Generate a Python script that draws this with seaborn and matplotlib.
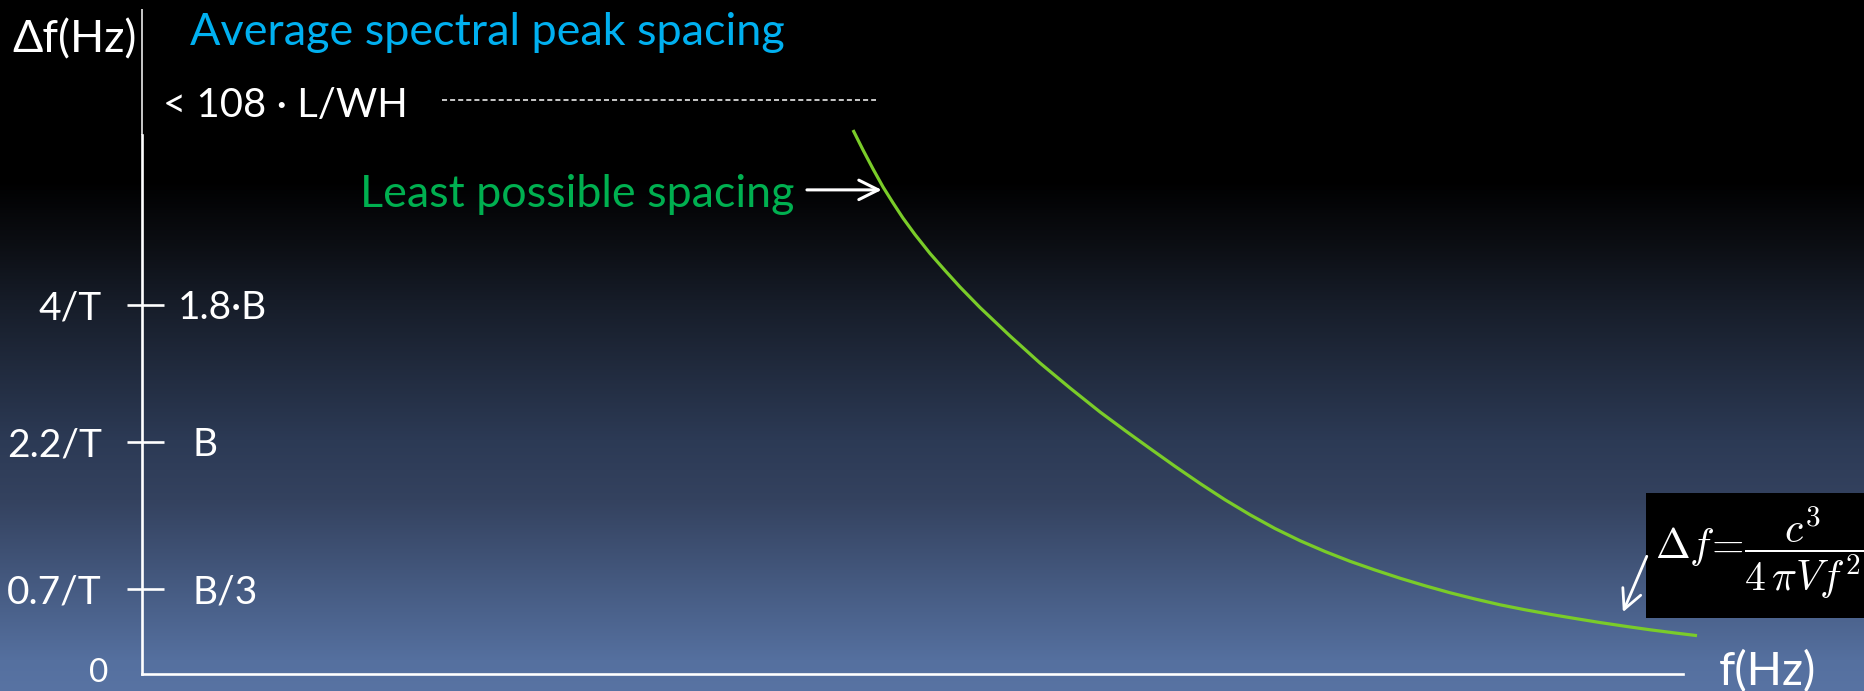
import numpy as np
import pandas as pd
import matplotlib
matplotlib.use("Agg")
import matplotlib.pyplot as plt
from matplotlib.patches import Rectangle
import seaborn as sns

# ---------------- data (schematic units: axis runs 0..100 on both axes) ----------------
freq = [46.14, 46.79, 47.44, 48.09, 48.74, 49.38, 50.16, 51.14, 52.11, 53.08,
        54.38, 56.33, 58.27, 60.22, 62.17, 63.79, 65.41, 67.03, 68.66, 70.28,
        71.90, 73.52, 75.15, 76.77, 78.39, 80.01, 81.64, 83.26, 84.88, 86.50,
        88.12, 89.75, 91.37, 92.99, 94.61, 96.24, 97.86, 99.48, 100.91]
spacing = [81.80, 78.80, 75.94, 73.23, 70.83, 68.57, 66.09, 63.23, 60.68, 58.20,
           55.11, 50.83, 46.77, 43.01, 39.40, 36.62, 33.91, 31.24, 28.65, 26.20,
           23.95, 21.88, 20.04, 18.42, 16.95, 15.64, 14.40, 13.27, 12.22, 11.28,
           10.41, 9.66, 8.98, 8.35, 7.74, 7.18, 6.65, 6.17, 5.77]
ytick_pos = [12.8, 34.9, 55.5]
ytick_left = ["0.7/T", "2.2/T", "4/T"]
ytick_right = ["B/3", "B", "1.8·B"]
origin_label = "0"
limit_level = 86.3
limit_span = [19.5, 47.6]
y_label = "Δf(Hz)"
x_label = "f(Hz)"
title = "Average spectral peak spacing"
limit_text = "< 108 · L/WH"
curve_text = "Least possible spacing"
formula = r"$\Delta f\!=\!\dfrac{c^3}{4\,\pi V f^2}$"

# ---------------- style ----------------
sns.set_theme(style="white")
plt.rcParams["font.family"] = ["Lato", "DejaVu Sans"]
plt.rcParams["mathtext.fontset"] = "cm"

W, H = 1864, 691
fig = plt.figure(figsize=(W / 100, H / 100), dpi=100)

# background gradient
bg = fig.add_axes([0, 0, 1, 1], zorder=0)
rows = np.arange(H)
stops_y = [0, 180, 240, 300, 440, 500, 660, 691]
stops_c = np.array([[0x00, 0x00, 0x00], [0x00, 0x00, 0x00], [0x0b, 0x0d, 0x12],
                    [0x16, 0x1c, 0x28], [0x2c, 0x3a, 0x55], [0x34, 0x42, 0x5f],
                    [0x55, 0x70, 0x9f], [0x58, 0x73, 0xa3]]) / 255.0
grad = np.stack([np.interp(rows, stops_y, stops_c[:, k]) for k in range(3)], axis=-1)
bg.imshow(grad[:, None, :], aspect="auto", extent=[0, 1, 0, 1], origin="upper")
bg.set_axis_off()

ax = fig.add_axes([142 / W, 17 / H, (1683 - 142) / W, 665 / H], zorder=1)
ax.patch.set_alpha(0)
ax.set_xlim(0, 100)
ax.set_ylim(0, 100)

df = pd.DataFrame({"f": freq, "df": spacing})
sns.lineplot(data=df, x="f", y="df", ax=ax, color="#7ACC29", lw=2.3,
             sort=False, clip_on=False, solid_joinstyle="round", solid_capstyle="butt")
ax.set_xlabel("")
ax.set_ylabel("")

for s in ["top", "right"]:
    ax.spines[s].set_visible(False)
for s in ["left", "bottom"]:
    ax.spines[s].set_color("white")
    ax.spines[s].set_linewidth(1.9)
ax.spines["left"].set_bounds(0, 81)
ax.spines["bottom"].set_bounds(0, 100)
ax.plot([0, 0], [81, 100], color="white", lw=1.1, clip_on=False, solid_capstyle="butt")

ax.set_xticks([])
ax.set_yticks(ytick_pos, ytick_left)
ax.tick_params(axis="y", length=0, pad=29, labelsize=28, labelcolor="white")

# origin label
ax.text(-2.2, -1.2, origin_label, color="white", fontsize=24, ha="right",
        va="baseline", clip_on=False)

# tick marks crossing the axis
ax.hlines(ytick_pos, -1.0, 1.4, color="white", lw=1.9, clip_on=False)

# right-hand tick labels
for pos, lab in zip(ytick_pos, ytick_right):
    x0 = 2.3 if lab.startswith("1.8") else 3.25
    ax.text(x0, pos, lab, color="white", fontsize=28, va="center_baseline", ha="left",
            clip_on=False)

texts = []
t1 = ax.text(-8.4, 96.0, y_label, color="white", fontsize=26, ha="left",
             va="center_baseline", clip_on=False)
texts.append((t1, 124))
t2 = ax.text(3.1, 94.6, title, color="#00B0F0", fontsize=30, ha="left",
             va="baseline", clip_on=False)
texts.append((t2, 595))
t3 = ax.text(1.36, 83.8, limit_text, color="white", fontsize=28, ha="left",
             va="baseline", clip_on=False)
texts.append((t3, 244))
t4 = ax.text(14.15, 70.2, curve_text, color="#00B050", fontsize=30, ha="left",
             va="baseline", clip_on=False)
texts.append((t4, 435))
t5 = ax.text(102.3, 1.0, x_label, color="white", fontsize=26, ha="left",
             va="center_baseline", clip_on=False)
texts.append((t5, 97))

# dashed limit line
ax.plot(limit_span, [limit_level, limit_level], color="white", lw=1.1,
        linestyle=(0, (3.3, 2.0)), clip_on=False)

# arrow to the curve
ax.annotate("", xy=(48.0, 72.8), xytext=(43.15, 72.8),
            arrowprops=dict(arrowstyle="->,head_length=0.7,head_width=0.35",
                            color="white", lw=2.2, mutation_scale=20,
                            shrinkA=0, shrinkB=0), annotation_clip=False)

# formula box
ax.add_patch(Rectangle((97.6, 8.4), 14.2, 18.8, facecolor="black", edgecolor="none",
                       clip_on=False, zorder=3))
ax.text(98.2, 18.3, formula, color="white", fontsize=30, ha="left", va="center",
        clip_on=False, zorder=4)
ax.annotate("", xy=(96.1, 9.3), xytext=(97.65, 17.7),
            arrowprops=dict(arrowstyle="->,head_length=0.7,head_width=0.35",
                            color="white", lw=2.0, mutation_scale=20,
                            shrinkA=0, shrinkB=0), annotation_clip=False)

# fit text widths to the reference
fig.canvas.draw()
r = fig.canvas.get_renderer()
for t, w in texts:
    bb = t.get_window_extent(r)
    t.set_fontsize(t.get_fontsize() * w / bb.width)

fig.savefig("out.png", dpi=100)
